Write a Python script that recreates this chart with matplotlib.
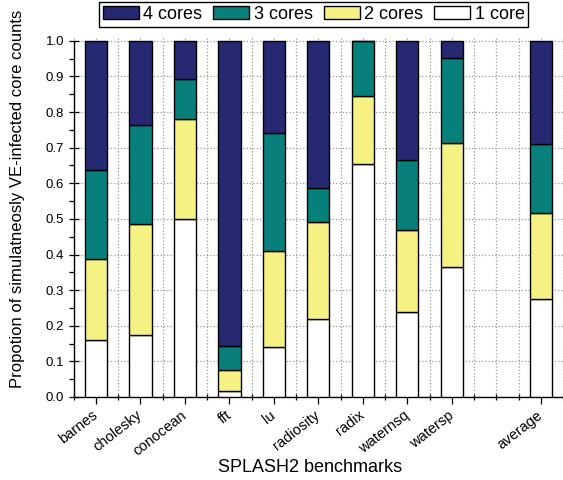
import numpy as np
import matplotlib
matplotlib.use('Agg')
import matplotlib.pyplot as plt
from matplotlib.ticker import MultipleLocator
from matplotlib.transforms import ScaledTranslation

# Benchmarks (the empty slot before "average" is a gap in the original chart)
benchmarks = ['barnes', 'cholesky', 'conocean', 'fft', 'lu', 'radiosity',
              'radix', 'waternsq', 'watersp', 'average']
positions = [0, 1, 2, 3, 4, 5, 6, 7, 8, 10]

# Cumulative boundaries
cum_1core = [0.160, 0.173, 0.500, 0.016, 0.139, 0.220, 0.655, 0.239, 0.364, 0.274]
cum_2core = [0.388, 0.485, 0.780, 0.076, 0.410, 0.491, 0.846, 0.470, 0.713, 0.518]
cum_3core = [0.638, 0.764, 0.892, 0.144, 0.742, 0.587, 1.000, 0.666, 0.952, 0.710]
cum_4core = [1.0] * 10

one_core = np.array(cum_1core)
two_core = np.array(cum_2core) - np.array(cum_1core)
three_core = np.array(cum_3core) - np.array(cum_2core)
four_core = np.array(cum_4core) - np.array(cum_3core)

c_navy = '#262872'
c_teal = '#077F7A'
c_yellow = '#F5F182'
c_white = '#FFFFFF'

plt.rcParams['font.family'] = ['Liberation Sans', 'DejaVu Sans']

fig = plt.figure(figsize=(5.63, 4.80), dpi=100)
ax = fig.add_axes([0.131, 0.173, 0.869, 0.753])

w = 0.5
kw = dict(width=w, edgecolor='black', linewidth=1.0, zorder=3)
b1 = ax.bar(positions, one_core, color=c_white, label='1 core', **kw)
b2 = ax.bar(positions, two_core, bottom=one_core, color=c_yellow, label='2 cores', **kw)
b3 = ax.bar(positions, three_core, bottom=cum_2core, color=c_teal, label='3 cores', **kw)
b4 = ax.bar(positions, four_core, bottom=cum_3core, color=c_navy, label='4 cores', **kw)

ax.set_xlim(-0.5, 10.5)
ax.set_ylim(0, 1.015)

ax.set_xticks(positions)
ax.set_xticklabels(benchmarks, rotation=38, ha='right', va='center',
                   rotation_mode='anchor', fontsize=10.5)
# nudge labels a little to the right, like the original
for lbl in ax.get_xticklabels():
    lbl.set_transform(lbl.get_transform() + ScaledTranslation(3 / 100, 0, fig.dpi_scale_trans))
ax.xaxis.set_minor_locator(MultipleLocator(0.5))
ax.set_yticks(np.arange(0, 1.01, 0.1))
ax.set_yticklabels(['%.1f' % v for v in np.arange(0, 1.01, 0.1)], fontsize=9.5)
ax.yaxis.set_minor_locator(MultipleLocator(0.05))

ax.tick_params(axis='y', which='major', direction='inout', length=7, width=0.9)
ax.tick_params(axis='y', which='minor', direction='out', length=3.5, width=0.9)
ax.tick_params(axis='x', which='major', direction='out', length=5, width=0.9, pad=7)
ax.tick_params(axis='x', which='minor', direction='inout', length=5, width=0.9)

ax.grid(True, which='major', axis='y', linestyle=':', color='#999999', linewidth=0.9, zorder=0)
ax.grid(True, which='both', axis='x', linestyle=':', color='#999999', linewidth=0.9, zorder=0)

for s in ['top', 'right']:
    ax.spines[s].set_visible(False)
ax.spines['left'].set_bounds(0, 1.0)
ax.spines['left'].set_linewidth(1.0)
ax.spines['bottom'].set_linewidth(1.0)

ax.set_xlabel('SPLASH2 benchmarks', fontsize=13)
ax.xaxis.set_label_coords(0.482, -0.172)
ax.set_ylabel('Propotion of simulatneosly VE-infected core counts', fontsize=12)
ax.yaxis.set_label_coords(-0.099, 0.548)

fig.legend(handles=[b4, b3, b2, b1], labels=['4 cores', '3 cores', '2 cores', '1 core'],
           loc='upper center', bbox_to_anchor=(0.557, 0.995), ncol=4, fontsize=13,
           frameon=True, fancybox=False, edgecolor='black', framealpha=1,
           handlelength=2.0, handleheight=0.75, handletextpad=0.25,
           columnspacing=0.6, borderpad=0.2, borderaxespad=0)

fig.savefig('out.png', dpi=100)
